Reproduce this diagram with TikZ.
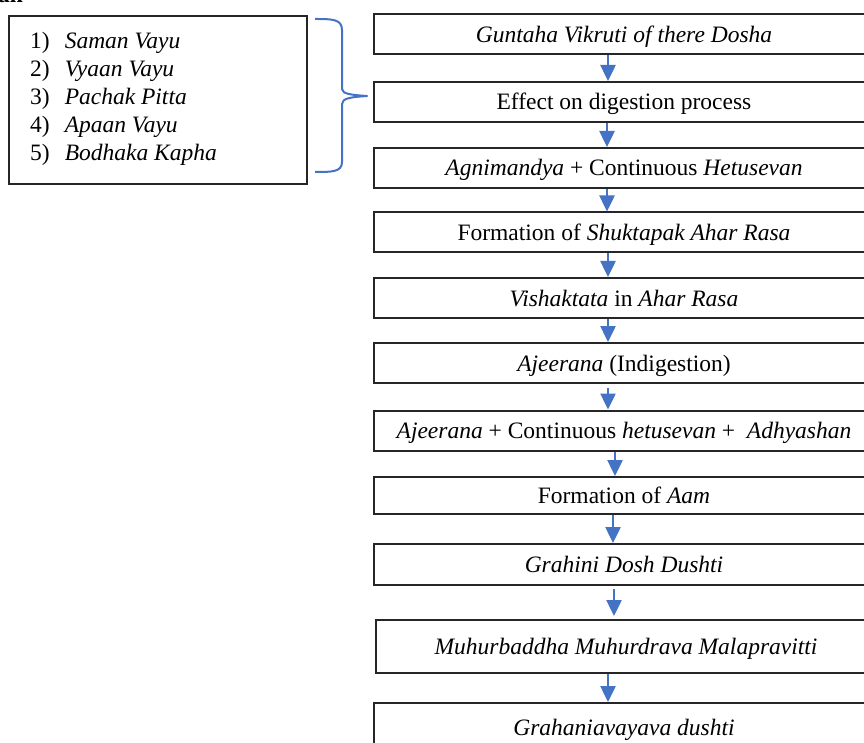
\documentclass[tikz,border=0pt]{standalone}
\usepackage{fontspec}
\setmainfont{Liberation Serif}
\usetikzlibrary{arrows.meta}

\definecolor{arrowblue}{HTML}{4472C4}

\begin{document}
\begin{tikzpicture}[x=1pt, y=-1pt,
    every node/.style={font=\fontsize{23.5}{28}\selectfont},
    flowbox/.style={draw=black!85, line width=2pt, minimum width=500pt, minimum height=40pt,
                    inner sep=0pt, text height=17pt, text depth=1pt},
    flowarrow/.style={draw=arrowblue, line width=2.5pt, -{Triangle[width=15pt,length=16pt]}},
  ]
    \useasboundingbox (0,0) rectangle (864,743);

    % Draw heading fragment
    \node[anchor=base west, inner sep=0pt, font=\fontsize{23.5}{28}\selectfont\bfseries] (heading) at (-2,3) {an};

    % Draw list of Dosha
    \node[draw=black!85, line width=2pt, minimum width=298pt, minimum height=168pt] (list) at (158,100) {};
    \node[anchor=west, inner sep=0pt] (items) at (30,99) {%
      \begin{tabular}{@{}l@{\hspace{15pt}}l@{}}
        1) & \textit{Saman Vayu}\\
        2) & \textit{Vyaan Vayu}\\
        3) & \textit{Pachak Pitta}\\
        4) & \textit{Apaan Vayu}\\
        5) & \textit{Bodhaka Kapha}
      \end{tabular}};

    % Draw brace
    \draw[arrowblue, line width=2pt, line join=round]
      (315,19) .. controls (332,19) and (342,19) .. (342,30) -- (342,89)
      .. controls (342,94) and (352,95) .. (367,96)
      .. controls (352,97) and (342,98) .. (342,104) -- (342,162)
      .. controls (342,172) and (332,172) .. (315,172);

    % Draw flow boxes
    \node[flowbox] (guntaha) at (624,34.5) {\textit{Guntaha Vikruti of there Dosha}};
    \node[flowbox] (effect) at (624,102) {Effect on digestion process};
    \node[flowbox] (agni) at (624,168) {\textit{Agnimandya} + Continuous \textit{Hetusevan}};
    \node[flowbox] (shukta) at (624,232.5) {Formation of \textit{Shuktapak Ahar Rasa}};
    \node[flowbox] (vishak) at (624,298) {\textit{Vishaktata} in \textit{Ahar Rasa}};
    \node[flowbox] (ajeerana) at (624,363) {\textit{Ajeerana} (Indigestion)};
    \node[flowbox] (adhyashan) at (624,430.5) {\textit{Ajeerana} + Continuous \textit{hetusevan} +\ \ \textit{Adhyashan}};
    \node[flowbox, minimum height=37pt] (aam) at (624,495.5) {Formation of \textit{Aam}};
    \node[flowbox, minimum height=41pt] (grahini) at (624,564.5) {\textit{Grahini Dosh Dushti}};
    \node[flowbox, minimum height=53pt] (muhur) at (626,646.5) {\textit{Muhurbaddha Muhurdrava Malapravitti}};
    \node[flowbox, minimum height=48pt] (avayava) at (624,727) {\textit{Grahaniavayava dushti}};

    % Draw arrows
    \draw[flowarrow] ([xshift=-16pt]guntaha.south) -- ([xshift=-16pt]effect.north);
    \draw[flowarrow] ([xshift=-17pt]effect.south) -- ([xshift=-17pt]agni.north);
    \draw[flowarrow] ([xshift=-17pt]agni.south) -- ([xshift=-17pt]shukta.north);
    \draw[flowarrow] ([xshift=-16pt]shukta.south) -- ([xshift=-16pt]vishak.north);
    \draw[flowarrow] ([xshift=-16pt]vishak.south) -- ([xshift=-16pt]ajeerana.north);
    \draw[flowarrow] ([xshift=-16pt,yshift=-4pt]ajeerana.south) -- ([xshift=-16pt]adhyashan.north);
    \draw[flowarrow] ([xshift=-9pt]adhyashan.south) -- ([xshift=-9pt]aam.north);
    \draw[flowarrow] ([xshift=-11pt]aam.south) -- ([xshift=-11pt]grahini.north);
    \draw[flowarrow] ([xshift=-10pt,yshift=-3pt]grahini.south) -- ([xshift=-12pt,yshift=3pt]muhur.north);
    \draw[flowarrow] ([xshift=-18pt]muhur.south) -- ([xshift=-16pt]avayava.north);
\end{tikzpicture}
\end{document}
